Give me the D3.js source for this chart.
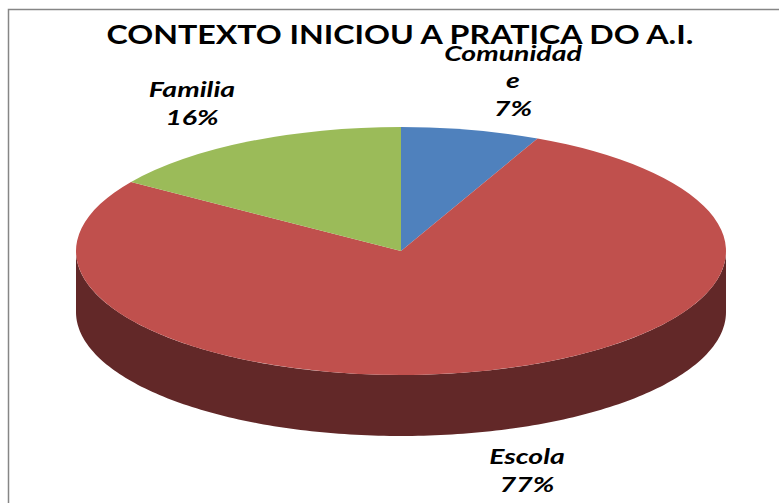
<!DOCTYPE html>
<html>
<head>
<meta charset="utf-8">
<script src="https://d3js.org/d3.v7.min.js"></script>
<style>
  html, body { margin: 0; padding: 0; background: #fff; }
  text { font-family: Lato, sans-serif; fill: #000; }
</style>
</head>
<body>
<svg id="chart" width="779" height="503"></svg>
<script>
// Data
var categories = ["Comunidade", "Escola", "Familia"];
var shares = [6.9, 77.5, 15.6];   // slice sizes measured off the ellipse
var colors = ["#4f81bd", "#c0504d", "#9bbb59"];
var titleText = "CONTEXTO INICIOU A PRATICA DO A.I.";

// Label lines as they wrap in the original
var labelLines = [["Comunidad", "e", "7%"], ["Escola", "77%"], ["Familia", "16%"]];
var labelX = [513, 527, 192];
var labelY = [61, 464, 97];
var lineStep = [27.5, 28, 28];

var cx = 401, cy = 251, rx = 325, ry = 124, depth = 61;
// The original picture is stretched sideways, so the text is too
var titleStretch = 1.19, labelStretch = 1.42;

var svg = d3.select("#chart");

// Chart frame, only the top and left edges are inside the crop
svg.append("path")
    .attr("d", "M8.5,503V9.5H779")
    .attr("fill", "none")
    .attr("stroke", "#868686")
    .attr("stroke-width", 1.5);

// Unit circle to screen
var scaleX = d3.scaleLinear().domain([-1, 1]).range([cx - rx, cx + rx]);
var scaleY = d3.scaleLinear().domain([-1, 1]).range([cy - ry, cy + ry]);

var pie = d3.pie().sort(null).value(d => d);
var slices = pie(shares);

// Side wall of the cylinder, the front half belongs to the red slice
var wallAngles = d3.range(90, 270.5, 1).map(d => d * Math.PI / 180);
var wall = d3.area()
    .x(a => scaleX(Math.sin(a)))
    .y0(a => scaleY(-Math.cos(a)))
    .y1(a => scaleY(-Math.cos(a)) + depth);

svg.append("path")
    .datum(wallAngles)
    .attr("fill", "#622828")
    .attr("d", wall);

// Top of the pie: a circle arc squashed into an ellipse
var arc = d3.arc().innerRadius(0).outerRadius(rx);

svg.append("g")
    .attr("transform", "translate(" + cx + "," + cy + ") scale(1," + (ry / rx) + ")")
    .selectAll("path")
    .data(slices)
    .enter()
    .append("path")
    .attr("fill", (d, i) => colors[i])
    .attr("d", arc);

// Title
svg.append("text")
    .attr("transform", "translate(400,44) scale(" + titleStretch + ",1)")
    .attr("text-anchor", "middle")
    .attr("font-size", 27)
    .attr("font-weight", 700)
    .text(titleText);

// Data labels
labelLines.forEach(function(lines, i) {
    svg.append("text")
        .attr("transform", "translate(" + labelX[i] + "," + labelY[i] + ") scale(" + labelStretch + ",1)")
        .attr("text-anchor", "middle")
        .attr("font-size", 20)
        .attr("font-weight", 700)
        .attr("font-style", "italic")
        .selectAll("tspan")
        .data(lines)
        .enter()
        .append("tspan")
        .attr("x", 0)
        .attr("y", (d, j) => j * lineStep[i])
        .text(d => d);
});
</script>
</body>
</html>
